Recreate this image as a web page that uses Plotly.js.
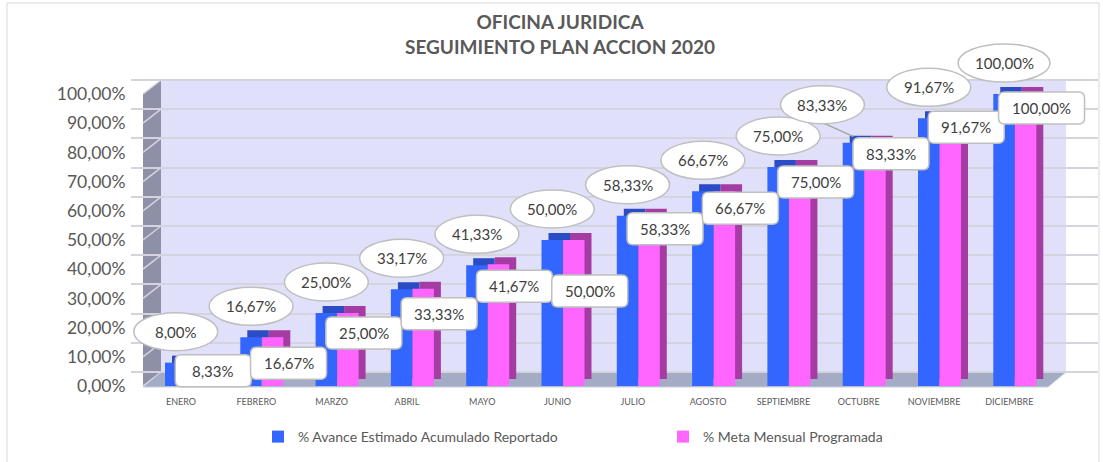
<!DOCTYPE html>
<html><head><meta charset="utf-8">
<script src="https://cdn.plot.ly/plotly-3.0.1.min.js"></script>
<style>html,body{margin:0;padding:0;background:#fff}#chart{width:1103px;height:462px}</style>
</head><body><div id="chart"></div>
<script>
// ---------- data ----------
const months = ['ENERO','FEBRERO','MARZO','ABRIL','MAYO','JUNIO','JULIO','AGOSTO','SEPTIEMBRE','OCTUBRE','NOVIEMBRE','DICIEMBRE'];
const avance = [0.08,0.1667,0.25,0.3317,0.4133,0.50,0.5833,0.6667,0.75,0.8333,0.9167,1.00];
const meta   = [0.0833,0.1667,0.25,0.3333,0.4167,0.50,0.5833,0.6667,0.75,0.8333,0.9167,1.00];
const yTicks = [0,0.1,0.2,0.3,0.4,0.5,0.6,0.7,0.8,0.9,1.0];
const seriesNames = ['% Avance Estimado Acumulado Reportado','% Meta Mensual Programada'];
const titleLines = ['OFICINA JURIDICA','SEGUIMIENTO PLAN ACCION 2020'];

// ---------- label placement (style) ----------
const blueShift = {OCTUBRE:[-31,38]};                                // px [dx, up]
const pinkDrop = [9,26,20,25,22,51,13,17,15,11,9,14];              // px below bar top

// ---------- geometry (px) ----------
const L=131, R=1098, T=35, B=395, W=1103, H=462;
const PW=R-L, PH=B-T;
const catPx=75.3, firstCat=181;          // category spacing, first category centre
const yPx=292, y0Px=386;                  // px per 100%, px of 0%
const backDy=14;
const px = x => (x-L)/PW, py = y => (B-y)/PH;
const xr = [(L-firstCat)/catPx, (R-firstCat)/catPx];
const yr = [-(B-y0Px)/yPx, (y0Px-T)/yPx];
const barW=21.5/catPx, blueOff=-16/catPx, pinkOff=5.5/catPx;
const depthX=7/catPx, depthY=7/yPx;
const idx = months.map((m,i)=>i);
const fmt = v => (v*100).toFixed(2).replace('.',',')+'%';
const FONT = "Lato, 'Open Sans', sans-serif";
const GREY = '#595959';

const traces = [
  {type:'bar', x:idx, y:avance, base:avance.map(()=>depthY), offset:blueOff+depthX, width:barW,
   marker:{color:'#2A4CC4'}, showlegend:false, hoverinfo:'skip'},
  {type:'bar', x:idx, y:meta, base:meta.map(()=>depthY), offset:pinkOff+depthX, width:barW,
   marker:{color:'#A43CA4'}, showlegend:false, hoverinfo:'skip'},
  {type:'bar', name:seriesNames[0], x:idx, y:avance, offset:blueOff, width:barW, marker:{color:'#3366FF'}},
  {type:'bar', name:seriesNames[1], x:idx, y:meta, offset:pinkOff, width:barW, marker:{color:'#FF66FF'}},
  {type:'scatter', x:[0], y:[0], yaxis:'y2', mode:'none', showlegend:false, hoverinfo:'skip'}
];

const shapes = [];
// back wall
shapes.push({type:'rect', xref:'paper', yref:'paper', x0:px(L+30), x1:px(1066), y0:py(372), y1:py(79),
  fillcolor:'#E0E0FA', line:{width:0}, layer:'below'});
// side wall
shapes.push({type:'path', xref:'paper', yref:'paper', layer:'between',
  path:`M${px(143)},${py(386)} L${px(143)},${py(94)} L${px(161)},${py(80)} L${px(161)},${py(372)} Z`,
  fillcolor:'#8E90A8', line:{width:0}});
// cover grid stubs left of back wall
shapes.push({type:'path', xref:'paper', yref:'paper', layer:'between',
  path:`M${px(L)},${py(60)} L${px(161)},${py(60)} L${px(161)},${py(80)} L${px(143)},${py(94)} L${px(L)},${py(94)} Z`,
  fillcolor:'#FFFFFF', line:{width:0}});
shapes.push({type:'rect', xref:'paper', yref:'paper', layer:'between', x0:px(L), x1:px(143), y0:py(386), y1:py(94),
  fillcolor:'#FFFFFF', line:{width:0}});
// side wall grid lines
yTicks.forEach(v=>{
  shapes.push({type:'line', xref:'paper', yref:'y', layer:'between', x0:px(143), x1:px(161), y0:v, y1:v+backDy/yPx,
    line:{color:'#D4D4DE', width:1.5}});
});
// floor
shapes.push({type:'path', xref:'paper', yref:'paper', layer:'between',
  path:`M${px(143)},${py(387)} L${px(1048)},${py(387)} L${px(1066)},${py(372)} L${px(161)},${py(372)} Z`,
  fillcolor:'#A3ACC4', line:{color:'#C9CEDC', width:1}});
// outer frame
shapes.push({type:'rect', xref:'paper', yref:'paper', layer:'below', x0:px(7), x1:px(1099), y0:py(470), y1:py(3),
  fillcolor:'rgba(0,0,0,0)', line:{color:'#D9D9D9', width:1}});

// rounded rectangle path in pixel coordinates (y up)
function rrect(cx, cy, w, h, r){
  const x0=cx-w/2, x1=cx+w/2, y0=cy-h/2, y1=cy+h/2;
  return `M${x0+r},${y0} L${x1-r},${y0} Q${x1},${y0} ${x1},${y0+r} L${x1},${y1-r} Q${x1},${y1} ${x1-r},${y1} `+
         `L${x0+r},${y1} Q${x0},${y1} ${x0},${y1-r} L${x0},${y0+r} Q${x0},${y0} ${x0+r},${y0} Z`;
}

const annotations = [];
const blueC = blueOff+barW/2, pinkC = pinkOff+barW/2;
// leader line (OCTUBRE)
months.forEach((m,i)=>{
  if(m==='OCTUBRE'){
    shapes.push({type:'line', xref:'x', yref:'y', xsizemode:'pixel', ysizemode:'pixel',
      xanchor:i+blueC, yanchor:avance[i], x0:-31, y0:20, x1:0, y1:6, line:{color:'#A6A6A6', width:1.5}});
  }
});
months.forEach((m,i)=>{
  const [dx,up] = blueShift[m] || [0,31];
  const t1 = fmt(avance[i]);
  const ew = t1.length>6 ? 92 : 84;
  shapes.push({type:'circle', xref:'x', yref:'y', xsizemode:'pixel', ysizemode:'pixel',
    xanchor:i+blueC, yanchor:avance[i], x0:dx-ew/2, x1:dx+ew/2, y0:up-19, y1:up+19,
    fillcolor:'#FFFFFF', line:{color:'#BFBFBF', width:1.5}, layer:'above'});
  annotations.push({x:i+blueC, y:avance[i], xref:'x', yref:'y', text:t1, showarrow:false,
    xshift:dx, yshift:up, font:{family:FONT, size:15, color:'#404040'}});

  const t2 = fmt(meta[i]);
  const rw = t2.length>6 ? 86 : 76;
  shapes.push({type:'path', xref:'x', yref:'y', xsizemode:'pixel', ysizemode:'pixel',
    xanchor:i+pinkC, yanchor:meta[i], path:rrect(16, -pinkDrop[i], rw, 32, 6),
    fillcolor:'#FFFFFF', line:{color:'#BFBFBF', width:1.5}, layer:'above'});
  annotations.push({x:i+pinkC, y:meta[i], xref:'x', yref:'y', text:t2, showarrow:false,
    xshift:16, yshift:-pinkDrop[i], font:{family:FONT, size:15, color:'#404040'}});
});

const layout = {
  width:W, height:H,
  margin:{l:L, r:W-R, t:T, b:H-B, pad:0},
  paper_bgcolor:'#FFFFFF', plot_bgcolor:'rgba(0,0,0,0)',
  separators:',.',
  barmode:'overlay',
  font:{family:FONT, color:GREY},
  title:{text:'<b>'+titleLines.join('<br>')+'</b>', x:560/W, xanchor:'center', xref:'container',
    y:1-29/H, yanchor:'top', yref:'container', font:{family:FONT, size:19, color:GREY}},
  xaxis:{range:xr, tickvals:idx, ticktext:months, showgrid:false, zeroline:false, showline:false,
    ticks:'', tickfont:{family:FONT, size:9, color:GREY}},
  yaxis:{range:yr, tickvals:yTicks, tickformat:'.2%', showgrid:false, zeroline:false, showline:false,
    ticks:'outside', ticklen:1, tickcolor:'rgba(0,0,0,0)', tickfont:{family:FONT, size:17.5, color:GREY}},
  yaxis2:{overlaying:'y', range:[yr[0]-backDy/yPx, yr[1]-backDy/yPx], tickvals:yTicks, showticklabels:false,
    showgrid:true, gridcolor:'#D4D4DE', gridwidth:2, zeroline:false, showline:false},
  legend:{orientation:'h', xref:'container', yref:'container', x:258/W, xanchor:'left', y:1-437/H, yanchor:'middle',
    entrywidthmode:'pixels', entrywidth:360, font:{family:FONT, size:14, color:GREY}, traceorder:'normal'},
  shapes:shapes, annotations:annotations, showlegend:true
};
Plotly.newPlot('chart', traces, layout, {displayModeBar:false, staticPlot:true});
</script></body></html>
